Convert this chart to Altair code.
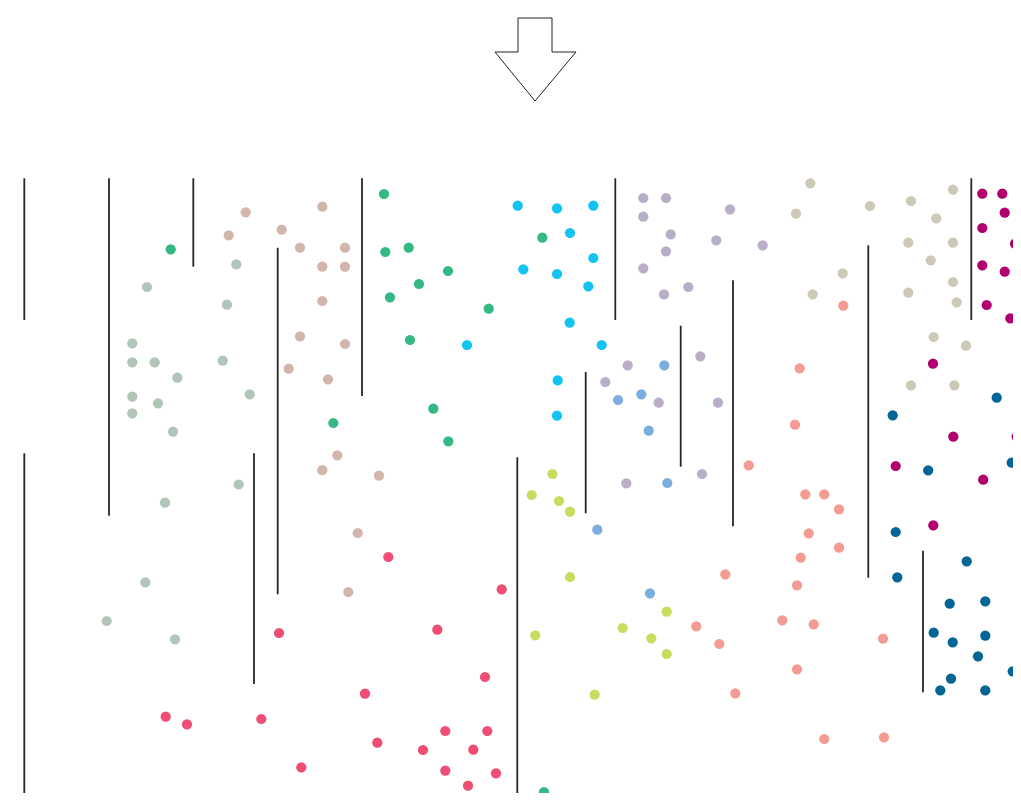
import altair as alt
import pandas as pd

# ---- point groups (x, y in picture units; y grows downward) ----
sage_x = [147, 132.3, 132.3, 154.7, 177.3, 132.3, 158, 132.3, 173, 236.3, 227, 222.7, 249.7, 238.7, 165, 145.3, 106.7, 175]
sage_y = [287, 343.3, 362.3, 362.3, 377.7, 396.7, 403.3, 413.3, 431.7, 264.3, 304.7, 360.7, 394.3, 484.5, 502.7, 582.3, 621, 639.3]

tan_x = [245.7, 322.3, 281.7, 228.7, 300, 345, 322.3, 345, 322.3, 300, 345, 288.7, 328, 337.3, 322.3, 379, 357.7, 348.3]
tan_y = [212.3, 206.7, 229.7, 235.3, 247.7, 247.7, 266.7, 266.7, 301, 336.3, 344, 368.7, 379.3, 455.3, 470.2, 475.7, 533, 592]

green_x = [384, 170.7, 385.3, 408.7, 448, 419, 390, 488.7, 410, 433.3, 333.3, 448.3, 542.3, 544]
green_y = [194, 249.3, 252, 247.7, 271, 284, 297.3, 308.7, 340, 408.7, 423, 441.3, 237.7, 792]

cyan_x = [517.7, 557, 593.3, 570, 593.3, 523.3, 557, 588.3, 569.7, 601.7, 557.7, 557, 467]
cyan_y = [205.7, 208.3, 205.7, 233, 258, 269.3, 274, 286.3, 322.7, 345, 380.3, 415.7, 345]

lavender_x = [643.3, 666, 643.3, 730, 670.7, 716.3, 762.7, 666, 643.3, 664, 688.3, 700.3, 627.7, 605.3, 658.7, 718, 702, 626.3]
lavender_y = [198, 198, 216.7, 209.3, 234.3, 240.3, 245.3, 251.3, 268.3, 294.3, 287, 356.3, 365.3, 382, 402.7, 402.7, 474, 483.3]

lightblue_x = [664.3, 618, 641.3, 648.7, 667.3, 597.3, 650]
lightblue_y = [365.3, 400, 394.3, 430.7, 483, 529.7, 593.3]

yellowgreen_x = [552.5, 531.7, 559, 570, 570, 666.7, 535.3, 622.7, 651.3, 666.7, 594.7]
yellowgreen_y = [474, 495, 501, 511.7, 577, 611.7, 635.3, 628, 638.3, 654, 694.7]

beige_x = [810.3, 796, 870, 911, 953, 936.3, 908.3, 953, 930.7, 842.7, 812.7, 953, 908.3, 956.7, 933.7, 966, 911, 954.3]
beige_y = [183.3, 213.7, 206, 201, 189.7, 218.3, 242.7, 242.7, 260.3, 273.3, 294.3, 282, 292.7, 302.3, 337, 345.7, 385.3, 385.3]

salmon_x = [843.3, 799.7, 795, 748.7, 805.3, 824.3, 839, 808.7, 839, 800.7, 725.3, 797, 696.3, 719.3, 782.3, 813.7, 883, 797, 735.3, 824.3, 884]
salmon_y = [305.7, 368.3, 424.7, 465.3, 494.3, 494.3, 509.3, 533.3, 547.7, 557.7, 574.3, 585.3, 626.3, 644, 620.3, 624.3, 638.7, 669.3, 693.3, 739, 737.3]

magenta_x = [982.3, 1002.3, 1004.7, 982.3, 1015, 982.3, 1004.7, 986.7, 1010.3, 1018.3, 933, 953.3, 1016.7, 895.7, 983.2, 933.3]
magenta_y = [193.7, 193.7, 212.7, 228, 243.7, 265.3, 271.7, 305, 318.3, 347.7, 363.7, 436.7, 436.7, 466, 479.7, 525.3]

red_x = [388.3, 501.7, 279, 437.3, 485, 365, 165.7, 187, 261.3, 445.3, 487.3, 377.3, 423, 473.3, 301.3, 445.3, 496, 468]
red_y = [557, 589.3, 633, 629.7, 677, 693.7, 716.7, 724.3, 719, 731, 731, 742.7, 750, 749.7, 767.3, 770.7, 773.3, 785.7]

darkblue_x = [996.7, 892.7, 928.2, 1011.7, 895.7, 966.7, 897.3, 949.7, 985.3, 933.7, 952.7, 985.3, 1018.3, 978, 1012.7, 951, 940.3, 985.3]
darkblue_y = [397.7, 415.3, 470.3, 462.7, 532, 561.3, 577.3, 603.7, 601.3, 632.7, 642.3, 635.7, 628.3, 656.3, 671.3, 678.7, 690.3, 690.3]

groups = {
    "sage": (sage_x, sage_y, "#b1c5b9"),
    "tan": (tan_x, tan_y, "#d3b6ab"),
    "green": (green_x, green_y, "#35b983"),
    "cyan": (cyan_x, cyan_y, "#13c3f2"),
    "lavender": (lavender_x, lavender_y, "#b9aec7"),
    "lightblue": (lightblue_x, lightblue_y, "#7badde"),
    "yellowgreen": (yellowgreen_x, yellowgreen_y, "#c9dc5d"),
    "beige": (beige_x, beige_y, "#cccab6"),
    "salmon": (salmon_x, salmon_y, "#f49b94"),
    "magenta": (magenta_x, magenta_y, "#b1006e"),
    "red": (red_x, red_y, "#ef4d73"),
    "darkblue": (darkblue_x, darkblue_y, "#026595"),
}

# ---- vertical rules ----
rule_x = [24.3, 109, 193.3, 277.7, 362, 24.3, 254, 517.3, 615.3, 680.7, 733, 868.3, 971.3, 585.7, 923]
rule_y1 = [178.3, 178.3, 178.3, 247.7, 178.3, 453.3, 453.3, 457.3, 178.3, 325.7, 280.3, 245.3, 178.3, 372, 550.7]
rule_y2 = [320, 515.7, 266.7, 594.3, 396, 801, 684, 801, 320, 466.7, 526.3, 577.7, 320, 513.3, 692.3]

# ---- arrow outline ----
arrow_x = [518, 552, 552, 576, 535, 495, 518, 518]
arrow_y = [18, 18, 52, 52, 101, 52, 52, 18]

rows = []
for name, (xs_, ys_, _c) in groups.items():
    for a, b in zip(xs_, ys_):
        rows.append({"x": a, "y": b, "group": name})
pts = pd.DataFrame(rows)
rules = pd.DataFrame({"x": rule_x, "y1": rule_y1, "y2": rule_y2})
arrow = pd.DataFrame({"x": arrow_x, "y": arrow_y, "i": list(range(len(arrow_x)))})

xs = alt.Scale(domain=[8, 1013], nice=False, zero=False)
ys = alt.Scale(domain=[8, 793], nice=False, zero=False, reverse=True)

points = alt.Chart(pts).mark_circle(size=105, opacity=1, clip=True).encode(
    x=alt.X("x:Q", scale=xs, axis=None),
    y=alt.Y("y:Q", scale=ys, axis=None),
    color=alt.Color("group:N", legend=None,
                    scale=alt.Scale(domain=list(groups.keys()),
                                    range=[v[2] for v in groups.values()])),
)

lines = alt.Chart(rules).mark_rule(color="#262626", strokeWidth=1.8, clip=True).encode(
    x=alt.X("x:Q", scale=xs, axis=None),
    y=alt.Y("y1:Q", scale=ys, axis=None),
    y2="y2:Q",
)

arrow_mark = alt.Chart(arrow).mark_line(color="#222222", strokeWidth=1, clip=True).encode(
    x=alt.X("x:Q", scale=xs, axis=None),
    y=alt.Y("y:Q", scale=ys, axis=None),
    order="i:Q",
)

chart = alt.layer(lines, points, arrow_mark).properties(
    width=1005, height=785, padding=0, autosize="none"
).configure_view(stroke=None)

chart.save("out.html", embed_options={"renderer": "svg", "actions": False})
